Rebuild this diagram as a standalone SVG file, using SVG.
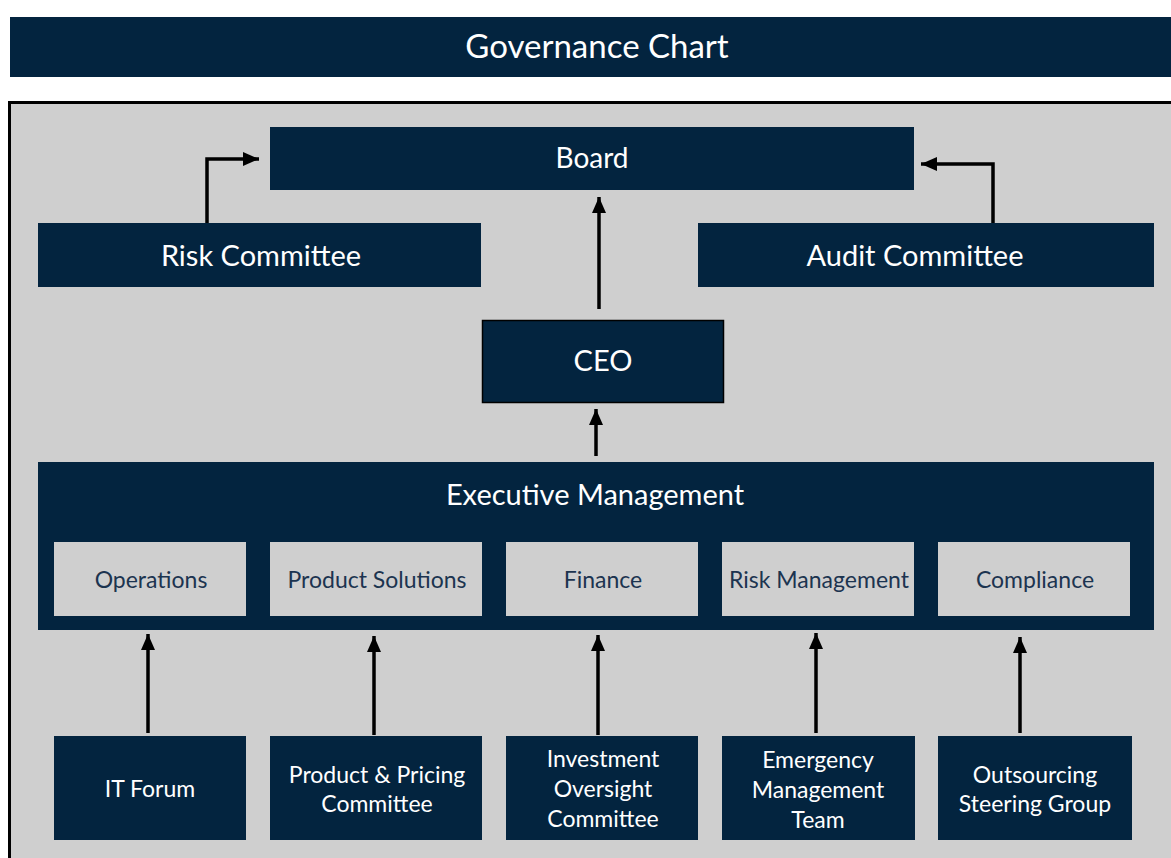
<svg xmlns="http://www.w3.org/2000/svg" width="1171" height="858" viewBox="0 0 1171 858">
<style>
.n{fill:#03243f}
.s{fill:#cfcfcf}
.t{font-family:Lato,"Open Sans",sans-serif;fill:#ffffff;text-anchor:middle}
.d{font-family:Lato,"Open Sans",sans-serif;fill:#1c3450;text-anchor:middle;font-size:23px}
.c{stroke:#000;stroke-width:3.5;fill:none}
</style>
<defs>
<marker id="ah" markerWidth="17" markerHeight="15" refX="16" refY="7" orient="auto" markerUnits="userSpaceOnUse" viewBox="0 0 17 15">
<path d="M0,0 L16,7 L0,14 z" fill="#000"/>
</marker>
</defs>
<rect x="0" y="0" width="1171" height="858" fill="#ffffff"/>
<g id="title">
<rect class="n" x="10" y="17" width="1161" height="60"/>
<text class="t" x="597" y="58" font-size="33">Governance Chart</text>
</g>
<rect x="9.5" y="102.5" width="1170" height="770" fill="#cfcfcf" stroke="#000" stroke-width="3"/>
<g id="board">
<rect class="n" x="270" y="127" width="644" height="63"/>
<text class="t" x="592" y="168" font-size="28">Board</text>
</g>
<g id="risk-committee">
<rect class="n" x="38" y="223" width="443" height="64"/>
<text class="t" x="261" y="266" font-size="29">Risk Committee</text>
</g>
<g id="audit-committee">
<rect class="n" x="698" y="223" width="456" height="64"/>
<text class="t" x="915" y="266" font-size="29">Audit Committee</text>
</g>
<g id="ceo">
<rect class="n" x="482.5" y="320.5" width="241" height="82" stroke="#000" stroke-width="1.5"/>
<text class="t" x="603" y="371" font-size="29">CEO</text>
</g>
<g id="executive-management">
<rect class="n" x="38" y="462" width="1116" height="168"/>
<text class="t" x="595" y="505" font-size="29">Executive Management</text>
</g>
<g id="operations">
<rect class="s" x="54" y="542" width="192" height="74"/>
<text class="d" x="151" y="588">Operations</text>
</g>
<g id="product-solutions">
<rect class="s" x="270" y="542" width="212" height="74"/>
<text class="d" x="377" y="588">Product Solutions</text>
</g>
<g id="finance">
<rect class="s" x="506" y="542" width="192" height="74"/>
<text class="d" x="603" y="588">Finance</text>
</g>
<g id="risk-management">
<rect class="s" x="722" y="542" width="192" height="74"/>
<text class="d" x="819" y="588">Risk Management</text>
</g>
<g id="compliance">
<rect class="s" x="938" y="542" width="192" height="74"/>
<text class="d" x="1035" y="588">Compliance</text>
</g>
<g id="it-forum">
<rect class="n" x="54" y="736" width="192" height="104"/>
<text class="t" x="150" y="797" font-size="23">IT Forum</text>
</g>
<g id="product-pricing-committee">
<rect class="n" x="270" y="736" width="212" height="104"/>
<text class="t" x="377" y="783" font-size="23">Product &amp; Pricing</text>
<text class="t" x="377" y="812" font-size="23">Committee</text>
</g>
<g id="investment-oversight-committee">
<rect class="n" x="506" y="736" width="192" height="104"/>
<text class="t" x="603" y="767" font-size="23">Investment</text>
<text class="t" x="603" y="797" font-size="23">Oversight</text>
<text class="t" x="603" y="827" font-size="23">Committee</text>
</g>
<g id="emergency-management-team">
<rect class="n" x="722" y="736" width="193" height="104"/>
<text class="t" x="818" y="768" font-size="23">Emergency</text>
<text class="t" x="818" y="798" font-size="23">Management</text>
<text class="t" x="818" y="828" font-size="23">Team</text>
</g>
<g id="outsourcing-steering-group">
<rect class="n" x="938" y="736" width="194" height="104"/>
<text class="t" x="1035" y="783" font-size="23">Outsourcing</text>
<text class="t" x="1035" y="812" font-size="23">Steering Group</text>
</g>
<g id="connectors">
<path class="c" d="M207,223 V159 H259" marker-end="url(#ah)"/>
<path class="c" d="M993,223 V164 H921" marker-end="url(#ah)"/>
<path class="c" d="M599,309 V197" marker-end="url(#ah)"/>
<path class="c" d="M596,456 V409" marker-end="url(#ah)"/>
<path class="c" d="M148,733 V634" marker-end="url(#ah)"/>
<path class="c" d="M374,735 V636" marker-end="url(#ah)"/>
<path class="c" d="M598,735 V635" marker-end="url(#ah)"/>
<path class="c" d="M816,733 V633" marker-end="url(#ah)"/>
<path class="c" d="M1020,733 V637" marker-end="url(#ah)"/>
</g>
</svg>
